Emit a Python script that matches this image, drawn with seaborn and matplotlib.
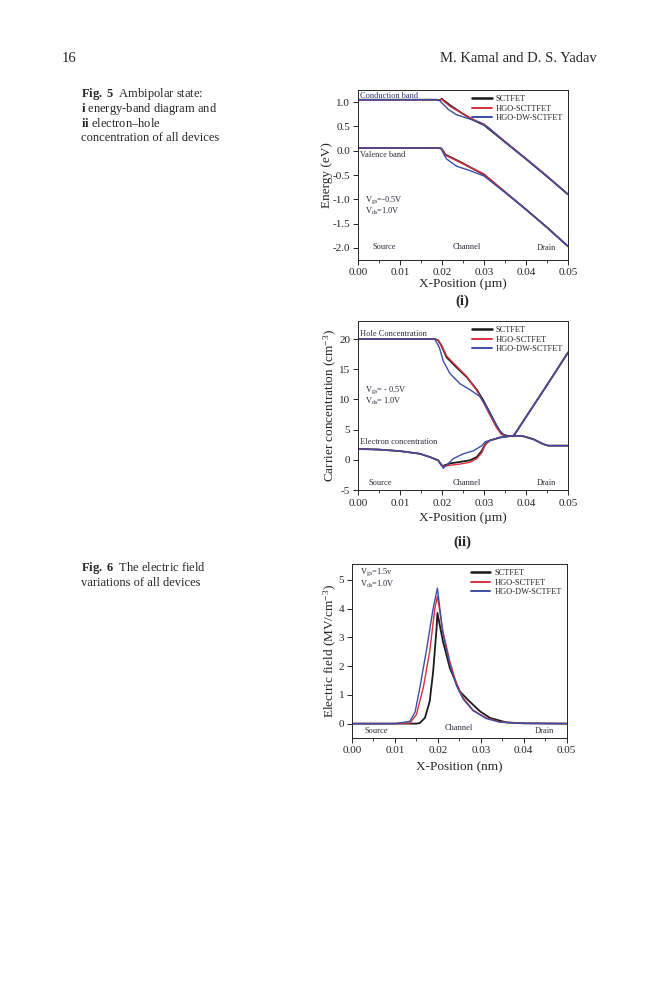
import numpy as np
import pandas as pd
import matplotlib
matplotlib.use("Agg")
import matplotlib.pyplot as plt
import seaborn as sns
from matplotlib.ticker import FormatStrFormatter, AutoMinorLocator

# Fig 5 (i) energy bands
cb_x = [0, 0.010, 0.0185, 0.0195, 0.0200, 0.0203, 0.0210, 0.022, 0.025, 0.0267, 0.028, 0.030, 0.035, 0.040, 0.045, 0.050]
cb_sct = [1.05, 1.05, 1.05, 1.04, 1.07, 1.04, 1.0, 0.93, 0.76, 0.67, 0.61, 0.53, 0.18, -0.17, -0.53, -0.90]
cb_hgo = [1.05, 1.05, 1.05, 1.04, 1.06, 1.03, 0.98, 0.91, 0.76, 0.68, 0.62, 0.55, 0.19, -0.16, -0.52, -0.90]
cb_dw_x = [0, 0.010, 0.0185, 0.0195, 0.0200, 0.021, 0.0215, 0.0235, 0.0267, 0.029, 0.031, 0.035, 0.040, 0.045, 0.050]
cb_dw = [1.05, 1.05, 1.05, 1.03, 0.98, 0.90, 0.85, 0.74, 0.65, 0.58, 0.48, 0.18, -0.17, -0.53, -0.90]

vb_x = [0, 0.010, 0.019, 0.0198, 0.0203, 0.0208, 0.022, 0.025, 0.0267, 0.030, 0.035, 0.040, 0.045, 0.050]
vb_sct = [0.055, 0.055, 0.055, 0.05, 0.0, -0.08, -0.13, -0.26, -0.34, -0.49, -0.85, -1.21, -1.58, -1.97]
vb_hgo = [0.055, 0.055, 0.055, 0.05, 0.0, -0.09, -0.14, -0.27, -0.34, -0.48, -0.85, -1.21, -1.58, -1.97]
vb_dw_x = [0, 0.010, 0.019, 0.0198, 0.0205, 0.0211, 0.0235, 0.0267, 0.030, 0.035, 0.040, 0.045, 0.050]
vb_dw = [0.055, 0.055, 0.055, 0.04, -0.08, -0.17, -0.32, -0.41, -0.52, -0.86, -1.21, -1.58, -1.97]

# Fig 5 (ii) carrier concentration
hole_x = [0, 0.010, 0.0183, 0.0191, 0.0199, 0.0211, 0.0235, 0.0259, 0.0283, 0.0298, 0.0314, 0.033, 0.0342, 0.0354, 0.037, 0.040, 0.045, 0.050]
hole_sct = [20, 20, 20, 19.8, 18.9, 17.0, 15.3, 13.7, 11.6, 9.9, 7.8, 5.6, 4.25, 4.0, 3.9, 7.1, 12.4, 17.8]
hole_hgo = [20, 20, 20, 19.8, 19.0, 17.2, 15.5, 13.8, 11.5, 9.6, 7.4, 5.3, 4.2, 4.0, 3.9, 7.1, 12.4, 17.8]
hole_dw_x = [0, 0.010, 0.0183, 0.0194, 0.0203, 0.0219, 0.0243, 0.0267, 0.029, 0.0306, 0.0322, 0.0338, 0.035, 0.037, 0.040, 0.045, 0.050]
hole_dw = [20, 20, 20, 18.6, 16.4, 14.3, 12.6, 11.6, 10.5, 8.8, 6.7, 4.8, 4.0, 3.9, 7.1, 12.4, 17.8]

elec_x = [0, 0.005, 0.010, 0.0148, 0.0171, 0.0191, 0.0199, 0.0203, 0.0219, 0.0243, 0.0267, 0.0283, 0.0295, 0.0303, 0.0314, 0.0338, 0.037, 0.0394, 0.0418, 0.0441, 0.0453, 0.050]
elec_sct = [1.8, 1.7, 1.45, 1.0, 0.47, -0.08, -0.9, -1.0, -0.6, -0.35, -0.08, 0.47, 1.5, 2.6, 3.2, 3.7, 4.0, 3.9, 3.4, 2.6, 2.35, 2.35]
elec_hgo = [1.8, 1.7, 1.45, 1.0, 0.47, -0.1, -0.8, -1.1, -0.9, -0.7, -0.4, 0.2, 1.2, 2.5, 3.2, 3.7, 4.0, 3.9, 3.4, 2.6, 2.35, 2.35]
elec_dw_x = [0, 0.005, 0.010, 0.0148, 0.0171, 0.0191, 0.0199, 0.0203, 0.0211, 0.0227, 0.0251, 0.0275, 0.0295, 0.0303, 0.0314, 0.0338, 0.037, 0.0394, 0.0418, 0.0441, 0.0453, 0.050]
elec_dw = [1.8, 1.7, 1.45, 1.0, 0.47, -0.08, -0.9, -1.4, -0.9, 0.2, 1.0, 1.5, 2.35, 3.0, 3.2, 3.7, 4.0, 3.9, 3.4, 2.6, 2.35, 2.35]

# Fig 6 electric field
ef_sct_x = [0, 0.010, 0.0150, 0.0158, 0.017, 0.0181, 0.0189, 0.0197, 0.0199, 0.0212, 0.0228, 0.0251, 0.0274, 0.0298, 0.0321, 0.036, 0.040, 0.050]
ef_sct = [0, 0, 0, 0.02, 0.2, 0.77, 1.8, 3.3, 3.85, 2.85, 1.93, 1.12, 0.77, 0.43, 0.2, 0.04, 0.01, 0]
ef_hgo_x = [0, 0.010, 0.0135, 0.015, 0.0166, 0.0181, 0.0193, 0.0199, 0.0212, 0.0228, 0.0244, 0.0259, 0.0282, 0.0312, 0.0344, 0.040, 0.050]
ef_hgo = [0, 0, 0.02, 0.31, 1.24, 2.5, 4.0, 4.42, 3.2, 2.16, 1.35, 0.9, 0.47, 0.2, 0.06, 0.01, 0]
ef_dw_x = [0, 0.010, 0.0135, 0.0147, 0.0158, 0.0174, 0.0189, 0.0199, 0.0212, 0.0228, 0.0244, 0.0259, 0.0282, 0.0312, 0.0344, 0.040, 0.050]
ef_dw = [0, 0, 0.08, 0.4, 1.24, 2.6, 4.0, 4.71, 3.1, 2.05, 1.3, 0.85, 0.45, 0.18, 0.05, 0.01, 0]

BLACK = "#1b1b1b"
RED = "#d8313f"
BLUE = "#3c4ea6"
TXT = "#2a2a3a"

sns.set_style("ticks")
plt.rcParams["font.family"] = ["Liberation Serif", "DejaVu Serif"]
plt.rcParams["mathtext.fontset"] = "custom"
plt.rcParams["mathtext.rm"] = "Liberation Serif"
plt.rcParams["mathtext.it"] = "Liberation Serif:italic"
plt.rcParams["mathtext.bf"] = "Liberation Serif:bold"

fig = plt.figure(figsize=(6.59, 10), dpi=100)

ax1 = fig.add_axes([0.543, 0.740, 0.319, 0.170])
ax2 = fig.add_axes([0.543, 0.510, 0.319, 0.169])
ax3 = fig.add_axes([0.534, 0.262, 0.326, 0.174])


def line(ax, x, y, color, lw, label=None):
    d = pd.DataFrame({"x": x, "y": y})
    sns.lineplot(data=d, x="x", y="y", color=color, lw=lw, ax=ax,
                 sort=False, estimator=None, label=label, legend=label is not None)


def style(ax, ylim, yticks, yfmt, xlabel, ylabel, xpad=1, tpad=2):
    ax.set_xlim(0, 0.05)
    ax.set_ylim(*ylim)
    ax.set_xticks([0, 0.01, 0.02, 0.03, 0.04, 0.05])
    ax.set_yticks(yticks)
    ax.xaxis.set_major_formatter(FormatStrFormatter("%.2f"))
    ax.yaxis.set_major_formatter(FormatStrFormatter(yfmt))
    ax.xaxis.set_minor_locator(AutoMinorLocator(2))
    ax.tick_params(which="major", direction="out", length=3.5, width=0.7, labelsize=8, pad=2)
    ax.tick_params(axis="x", which="major", pad=tpad)
    ax.tick_params(which="minor", direction="out", length=2, width=0.6)
    for s in ax.spines.values():
        s.set_linewidth(0.7)
        s.set_visible(True)
    ax.set_xlabel(xlabel, fontsize=9.5, labelpad=xpad)
    ax.set_ylabel(ylabel, fontsize=9.5, labelpad=0)
    leg = ax.legend(loc="upper right", frameon=False, fontsize=6, handlelength=2.3,
                    labelspacing=0.2, borderaxespad=0.2, handletextpad=0.5)
    for h in leg.get_lines():
        h.set_linewidth(h.get_linewidth() * 1.4)


# (i) energy band diagram
line(ax1, cb_x, cb_sct, BLACK, 1.3, "SCTFET")
line(ax1, cb_x, cb_hgo, RED, 1.0, "HGO-SCTTFET")
line(ax1, cb_dw_x, cb_dw, BLUE, 1.0, "HGO-DW-SCTFET")
line(ax1, vb_x, vb_sct, BLACK, 1.3)
line(ax1, vb_x, vb_hgo, RED, 1.0)
line(ax1, vb_dw_x, vb_dw, BLUE, 1.0)
style(ax1, (-2.25, 1.25), [-2.0, -1.5, -1.0, -0.5, 0.0, 0.5, 1.0], "%.1f",
      "X-Position (\u00b5m)", "Energy (eV)")
ax1.text(0.0006, 1.09, "Conduction band", fontsize=6, color="#2a3070")
ax1.text(0.0006, -0.12, "Valence band", fontsize=6, color=TXT)
ax1.text(0.0018, -1.05, r"V$_{\mathrm{gs}}$=-0.5V", fontsize=6, color=TXT)
ax1.text(0.0018, -1.30, r"V$_{\mathrm{ds}}$=1.0V", fontsize=6, color=TXT)
ax1.text(0.0035, -2.02, "Source", fontsize=6, color=TXT)
ax1.text(0.0225, -2.02, "Channel", fontsize=6, color=TXT)
ax1.text(0.0425, -2.05, "Drain", fontsize=6, color=TXT)
fig.text(0.701, 0.699, "(i)", fontsize=10.5, fontweight="bold", ha="center", va="center")

# (ii) carrier concentration
line(ax2, hole_x, hole_sct, BLACK, 1.3, "SCTFET")
line(ax2, hole_x, hole_hgo, RED, 1.0, "HGO-SCTFET")
line(ax2, hole_dw_x, hole_dw, BLUE, 1.0, "HGO-DW-SCTFET")
line(ax2, elec_x, elec_sct, BLACK, 1.3)
line(ax2, elec_x, elec_hgo, RED, 1.0)
line(ax2, elec_dw_x, elec_dw, BLUE, 1.0)
style(ax2, (-5, 23), [-5, 0, 5, 10, 15, 20], "%d",
      "X-Position (\u00b5m)", r"Carrier concentration (cm$^{-3}$)", xpad=3, tpad=3)
ax2.text(0.0006, 20.5, "Hole Concentration", fontsize=6, color=TXT)
ax2.text(0.0018, 11.3, r"V$_{\mathrm{gs}}$= - 0.5V", fontsize=6, color=TXT)
ax2.text(0.0018, 9.3, r"V$_{\mathrm{ds}}$= 1.0V", fontsize=6, color=TXT)
ax2.text(0.0006, 2.6, "Electron concentration", fontsize=6, color=TXT)
ax2.text(0.0025, -4.1, "Source", fontsize=6, color=TXT)
ax2.text(0.0225, -4.1, "Channel", fontsize=6, color=TXT)
ax2.text(0.0425, -4.1, "Drain", fontsize=6, color=TXT)
fig.text(0.701, 0.458, "(ii)", fontsize=10.5, fontweight="bold", ha="center", va="center")

# Fig 6 electric field
line(ax3, ef_sct_x, ef_sct, BLACK, 1.3, "SCTFET")
line(ax3, ef_hgo_x, ef_hgo, RED, 1.0, "HGO-SCTFET")
line(ax3, ef_dw_x, ef_dw, BLUE, 1.0, "HGO-DW-SCTFET")
style(ax3, (-0.5, 5.55), [0, 1, 2, 3, 4, 5], "%d",
      "X-Position (nm)", r"Electric field (MV/cm$^{-3}$)", xpad=5)
ax3.text(0.0018, 5.2, r"V$_{\mathrm{gs}}$=1.5v", fontsize=6, color=TXT)
ax3.text(0.0018, 4.75, r"V$_{\mathrm{ds}}$=1.0V", fontsize=6, color=TXT)
ax3.text(0.003, -0.33, "Source", fontsize=6, color=TXT)
ax3.text(0.0215, -0.22, "Channel", fontsize=6, color=TXT)
ax3.text(0.0425, -0.33, "Drain", fontsize=6, color=TXT)

# page text
fig.text(0.094, 0.942, "16", fontsize=10.5, va="center")
fig.text(0.906, 0.942, "M. Kamal and D. S. Yadav", fontsize=10.5, ha="right", va="center")
cap5 = [r"$\mathbf{Fig.\ 5}$  Ambipolar state:",
        r"$\mathbf{i}$ energy-band diagram and",
        r"$\mathbf{ii}$ electron" + "\u2013" + "hole",
        "concentration of all devices"]
for i, s in enumerate(cap5):
    fig.text(0.123, 0.906 - i * 0.0148, s, fontsize=9, va="center")
cap6 = [r"$\mathbf{Fig.\ 6}$  The electric field", "variations of all devices"]
for i, s in enumerate(cap6):
    fig.text(0.123, 0.432 - i * 0.0148, s, fontsize=9, va="center")

fig.savefig("out.png", dpi=100)
